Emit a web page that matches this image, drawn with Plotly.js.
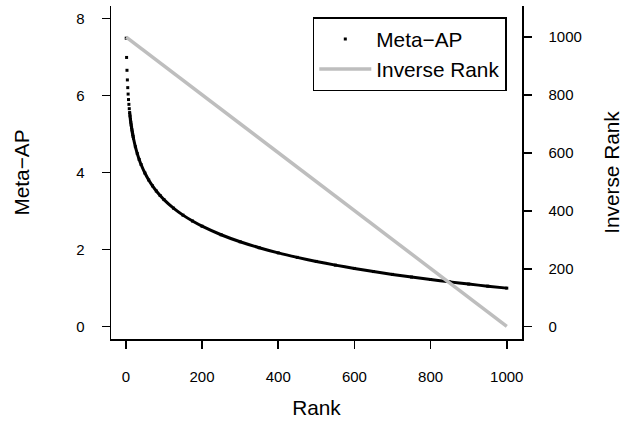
<!DOCTYPE html>
<html>
<head>
<meta charset="utf-8">
<script src="https://cdn.plot.ly/plotly-3.0.1.min.js"></script>
<style>
html,body{margin:0;padding:0;background:#fff;}
#chart{width:628px;height:440px;}
</style>
</head>
<body>
<div id="chart"></div>
<script>
const rank = [1,2,3,4,5,6,7,8,9,10,11,12,13,14,15,16,17,18,19,20,
  25,30,35,40,50,60,70,80,90,100,125,150,175,200,
  250,300,350,400,450,500,550,600,650,700,750,800,850,900,950,1000];
const metaAP = [7.485,6.985,6.652,6.402,6.202,6.035,5.893,5.768,5.656,5.556,
  5.466,5.382,5.305,5.234,5.167,5.105,5.046,4.990,4.938,4.888,
  4.669,4.490,4.339,4.207,3.986,3.806,3.653,3.520,3.403,3.298,
  3.076,2.894,2.741,2.607,
  2.385,2.203,2.049,1.915,1.798,1.693,1.597,1.511,1.430,1.356,
  1.287,1.223,1.162,1.105,1.051,1.000];
const invRankX = [1, 1000];
const invRank = [1000, 1];
const xTicks = [0,200,400,600,800,1000];
const yTicks = [0,2,4,6,8];
const y2Ticks = [0,200,400,600,800,1000];

const FONT = 'Liberation Sans, Arial, Helvetica, sans-serif';
const denseFrom = rank.indexOf(10);

const traces = [
  {
    x: rank, y: metaAP, type: 'scatter', mode: 'markers', name: 'Meta\u2212AP',
    marker: {symbol: 'square', size: 3, color: '#000000', line: {width: 0}},
    xaxis: 'x', yaxis: 'y'
  },
  {
    x: rank.slice(denseFrom), y: metaAP.slice(denseFrom), type: 'scatter', mode: 'lines',
    line: {color: '#000000', width: 3, shape: 'spline', smoothing: 0.6},
    showlegend: false, hoverinfo: 'skip', xaxis: 'x', yaxis: 'y'
  },
  {
    x: invRankX, y: invRank, type: 'scatter', mode: 'lines', name: 'Inverse Rank',
    line: {color: '#BEBEBE', width: 3.5},
    xaxis: 'x', yaxis: 'y2'
  }
];

const axisCommon = {
  showline: true, linecolor: '#000', linewidth: 1.5, mirror: false,
  ticks: 'outside', ticklen: 8, tickwidth: 1.5, tickcolor: '#000',
  showgrid: false, zeroline: false,
  tickfont: {family: FONT, size: 15, color: '#000'},
  fixedrange: true
};

const layout = {
  width: 628, height: 440,
  margin: {l: 111, r: 105.5, t: 6, b: 101, pad: 0},
  paper_bgcolor: '#fff', plot_bgcolor: '#fff',
  font: {family: FONT, color: '#000'},
  showlegend: true,
  xaxis: Object.assign({}, axisCommon, {
    range: [-38.96, 1039.96], tickmode: 'array', tickvals: xTicks,
    ticklabelstandoff: 15,
    title: {text: 'Rank', font: {family: FONT, size: 20.8, color: '#000'}, standoff: 17}
  }),
  yaxis: Object.assign({}, axisCommon, {
    range: [-0.32, 8.32], tickmode: 'array', tickvals: yTicks,
    ticklabelstandoff: 14,
    title: {text: 'Meta\u2212AP', font: {family: FONT, size: 20.8, color: '#000'}, standoff: 41}
  }),
  yaxis2: Object.assign({}, axisCommon, {
    range: [-42.6, 1107.6], tickmode: 'array', tickvals: y2Ticks,
    overlaying: 'y', side: 'right', anchor: 'x',
    ticklabelstandoff: 14,
    title: {text: 'Inverse Rank', font: {family: FONT, size: 20.8, color: '#000'}, standoff: 23}
  }),
  legend: {
    x: 0.491, y: 0.9655, xanchor: 'left', yanchor: 'top',
    bordercolor: '#000', borderwidth: 1.5, bgcolor: '#fff',
    font: {family: FONT, size: 20.8, color: '#000'},
    itemwidth: 52, tracegroupgap: 0
  }
};

Plotly.newPlot('chart', traces, layout, {displayModeBar: false, staticPlot: true});
</script>
</body>
</html>
